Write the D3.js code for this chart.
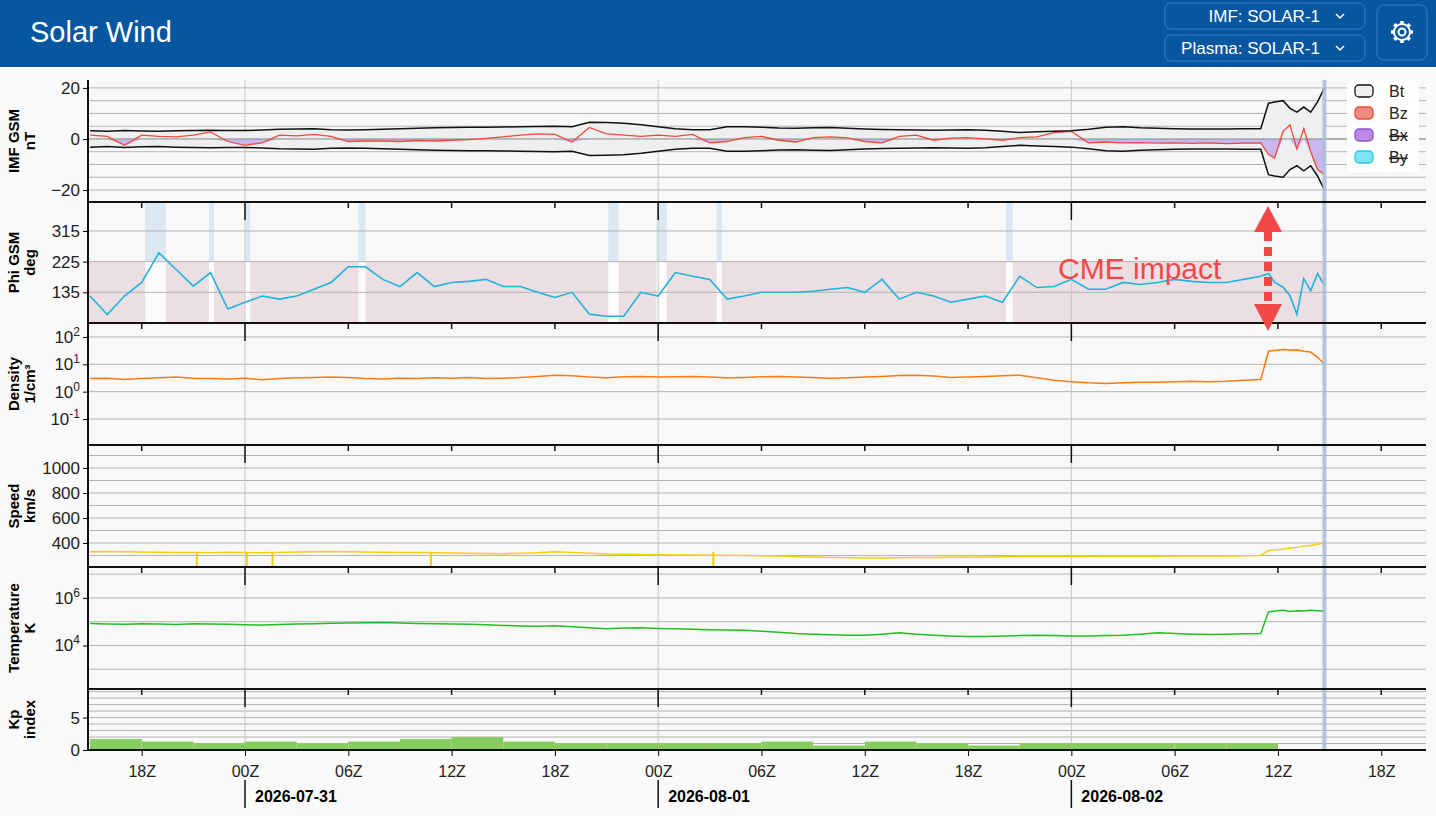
<!DOCTYPE html>
<html><head><meta charset="utf-8">
<script src="https://cdn.jsdelivr.net/npm/d3@7"></script>
<style>body{margin:0;background:#fafafa;font-family:Arial,"Liberation Sans",sans-serif}svg{display:block}</style>
</head><body><svg id="c" width="1436" height="816"></svg>
<script>
// ---- data ----
const hourOffsets = d3.range(0, 69).concat([68.45, 68.8, 69.3, 69.7, 70.1, 70.5, 70.9, 71.3, 71.7]);
const bt = [3.2,3.0,3.3,3.1,3.0,3.2,3.3,3.4,3.3,
 3.3,3.5,3.8,3.9,4.0,3.6,3.5,3.6,3.8,4.0,4.2,4.4,
 4.5,4.6,4.6,4.7,4.8,4.9,5.0,4.8,6.5,6.4,6.2,5.6,4.8,4.0,3.6,
 3.6,4.8,4.8,4.6,4.3,4.2,4.4,4.5,4.2,3.9,3.7,3.6,3.5,3.4,3.5,
 3.6,3.4,3.0,2.5,2.8,3.0,3.2,3.8,4.6,4.8,4.4,4.2,4.0,3.9,3.9,3.9,4.0,4.0,
 14.0,14.5,15.0,12.0,10.5,12.5,10.5,14.5,20.0];
const bz = [1.5,1.0,-2.5,1.5,1.0,0.8,1.5,2.8,-1.0,
 -2.5,-1.5,1.5,1.2,1.8,1.0,-1.0,-0.8,-0.8,-1.0,-0.6,-0.8,
 -0.5,-0.3,0.2,0.8,1.5,2.0,1.8,-1.2,4.5,2.0,1.5,1.0,1.5,1.0,1.8,
 -1.5,-1.0,0.5,1.0,-0.5,-1.2,0.5,0.8,0.4,-1.0,-1.5,1.0,1.5,-0.5,0.3,
 0.5,0.0,-0.5,0.5,0.8,2.5,3.0,-1.5,-1.2,-1.5,-1.4,-1.6,-1.5,-1.7,-1.5,-1.8,-1.6,-1.5,
 -6.0,-7.5,3.0,5.5,-4.0,4.0,-5.0,-12.0,-14.0];
const phi = [124,70,124,164,251,202,153,193,86,106,124,115,124,144,164,210,210,173,152,193,
 152,164,167,173,152,152,135,120,135,71,65,65,135,124,193,182,173,115,124,135,
 135,135,138,144,149,135,173,115,135,124,106,115,124,106,182,149,152,173,144,144,
 164,158,164,173,167,164,164,173,182,
 190,165,150,125,70,175,140,190,155];
const density = [3.0,3.1,2.8,3.0,3.2,3.4,3.1,3.0,2.9,
 3.1,2.7,3.0,3.2,3.3,3.4,3.3,3.0,2.9,3.1,3.0,3.2,
 3.1,3.3,3.0,3.1,3.3,3.6,4.0,3.8,3.4,3.2,3.5,3.6,3.4,3.5,3.6,
 3.4,3.2,3.3,3.5,3.6,3.4,3.3,3.1,3.2,3.4,3.6,3.9,4.0,3.7,3.3,
 3.4,3.6,3.8,4.0,3.2,2.6,2.3,2.1,2.0,2.1,2.2,2.2,2.3,2.4,2.3,2.4,2.6,2.8,
 30,32,35,33,34,30,28,18,10];
const speed = [330,332,330,328,326,325,324,322,325,324,322,325,328,
 330,332,330,328,326,325,324,322,320,318,316,315,318,
 322,330,325,318,312,310,308,306,305,304,302,300,300,
 298,295,290,288,285,282,280,280,282,284,285,286,287,288,290,292,292,
 292,293,293,294,294,295,295,296,296,297,297,298,300,
 340,345,350,360,365,375,380,390,400];
const speedDropouts = [6.2, 9.1, 10.6, 19.8, 36.2];
const temperature = [85000,80000,78000,82000,80000,76000,82000,80000,78000,75000,72000,76000,80000,
 82000,86000,88000,90000,92000,88000,84000,82000,80000,78000,74000,70000,66000,
 64000,68000,62000,55000,50000,54000,56000,52000,50000,48000,46000,45000,44000,
 40000,36000,32000,30000,28000,27000,27000,30000,34000,30000,27000,25000,24000,24000,25000,26000,27000,
 26000,25000,25000,26000,27000,30000,34000,32000,30000,29000,30000,31000,32000,
 260000,280000,300000,270000,290000,280000,300000,290000,280000];
const kp = [1.7,1.3,1.0,1.3,1.0,1.3,1.7,2.0,1.3,1.0,1.0,1.0,1.0,1.3,0.7,1.3,1.0,0.7,1.0,1.0,1.0,1.0,1.0];
const phiGaps = [[3.2,4.4],[6.9,7.2],[9.0,9.3],[15.6,16.0],[30.1,30.7],[32.9,33.5],[36.4,36.7],[53.2,53.6]];
const hourLabels = ["18Z","00Z","06Z","12Z","18Z","00Z","06Z","12Z","18Z","00Z","06Z","12Z","18Z"];
const dateLabels = ["2026-07-31","2026-08-01","2026-08-02"];
const legendItems = ["Bt","Bz","Bx","By"];

// ---- setup ----
const t0 = Date.UTC(2026,6,30,15);
const T = h => new Date(t0 + h*3600e3);
const svg = d3.select("#c");
const L = 88, R = 1426;
const x = d3.scaleUtc().domain([T(-0.12), T(77.6)]).range([L, R]);
const hx = h => x(T(h));

// header
svg.append("rect").attr("width",1436).attr("height",67).attr("fill","#0657a0");
svg.append("text").attr("x",30).attr("y",42).attr("fill","#fff").attr("font-size",29).text("Solar Wind");
[["IMF: SOLAR-1",3],["Plasma: SOLAR-1",35]].forEach(([t,y])=>{
  svg.append("rect").attr("x",1165).attr("y",y).attr("width",200).attr("height",26).attr("rx",6)
   .attr("fill","none").attr("stroke","#3a7bbd");
  svg.append("text").attr("x",1320).attr("y",y+19).attr("text-anchor","end").attr("fill","#fff").attr("font-size",17).text(t);
  svg.append("path").attr("d",`M1336,${y+11} l4,4 l4,-4`).attr("fill","none").attr("stroke","#fff").attr("stroke-width",1.5);
});
svg.append("rect").attr("x",1377).attr("y",5).attr("width",50).attr("height",55).attr("rx",7).attr("fill","none").attr("stroke","#3a7bbd");
const gear = svg.append("g").attr("transform","translate(1402,32)");
gear.append("path").attr("d",d3.range(8).map(i=>{const a=i*Math.PI/4;return `M${Math.cos(a)*7},${Math.sin(a)*7}L${Math.cos(a)*11},${Math.sin(a)*11}`}).join(""))
  .attr("stroke","#fff").attr("stroke-width",3.5);
gear.append("circle").attr("r",8).attr("fill","#0657a0").attr("stroke","#fff").attr("stroke-width",2);
gear.append("circle").attr("r",3.5).attr("fill","none").attr("stroke","#fff").attr("stroke-width",2);

// panels
const panels = [
 {top:80,bot:202,label:["IMF GSM","nT"]},
 {top:202,bot:323,label:["Phi GSM","deg"]},
 {top:323,bot:445,label:["Density","1/cm³"]},
 {top:445,bot:567,label:["Speed","km/s"]},
 {top:567,bot:689,label:["Temperature","K"]},
 {top:689,bot:750,label:["Kp","index"]}];
const yB = d3.scaleLinear().domain([-24.7,23.1]).range([202,80]);
const yP = d3.scaleLinear().domain([45,400]).range([323,202]);
const yD = d3.scaleLog().domain([10**-1.95,10**2.51]).range([445,323]);
const yS = d3.scaleLinear().domain([208,1184]).range([567,445]);
const yT = d3.scaleLog().domain([10**2.17,10**7.3]).range([689,567]);
const yK = d3.scaleLinear().domain([0,9.4]).range([750,689]);

svg.append("rect").attr("x",L).attr("y",80).attr("width",R-L).attr("height",670).attr("fill","#f8f8f8");
function grid(ys, vals){ svg.append("g").selectAll("line").data(vals).join("line")
  .attr("x1",L).attr("x2",R).attr("y1",d=>ys(d)).attr("y2",d=>ys(d)).attr("stroke","#b4b4b4").attr("stroke-width",1); }
grid(yB, d3.range(-20,21,5));
svg.append("rect").attr("x",L).attr("width",hx(71.7)-L).attr("y",yP(225)).attr("height",yP(45)-yP(225)).attr("fill","#ecdfe3");
phiGaps.forEach(g=>{
  svg.append("rect").attr("x",hx(g[0])).attr("width",hx(g[1])-hx(g[0])).attr("y",202).attr("height",yP(225)-202).attr("fill","#dbe8f2");
  svg.append("rect").attr("x",hx(g[0])).attr("width",hx(g[1])-hx(g[0])).attr("y",yP(225)).attr("height",yP(45)-yP(225)).attr("fill","#fbfbfb");
});
grid(yP,[135,225,315]);
grid(yD,[0.1,1,10,100]);
grid(yS,d3.range(300,1200,100));
grid(yT,[1e3,1e4,1e5,1e6,1e7]);
grid(yK,d3.range(1,10,1));

const days = [9,33,57];
svg.append("g").selectAll("line").data(days).join("line").attr("x1",d=>hx(d)).attr("x2",d=>hx(d))
  .attr("y1",80).attr("y2",750).attr("stroke","#c8c8c8");

const idx = d3.range(hourOffsets.length);
svg.append("path").datum(idx).attr("fill","#eeeff0")
  .attr("d",d3.area().x(i=>hx(hourOffsets[i])).y0(i=>yB(-bt[i])).y1(i=>yB(bt[i])));
svg.append("path").datum(idx).attr("fill","#c9b6f0")
  .attr("d",d3.area().x(i=>hx(hourOffsets[i])).y0(yB(0)).y1(i=>yB(Math.min(0,bz[i]))));
svg.append("line").attr("x1",L).attr("x2",R).attr("y1",yB(0)).attr("y2",yB(0)).attr("stroke","#888");
const lineT = (ys,arr)=>d3.line().x(i=>hx(hourOffsets[i])).y(i=>ys(arr[i]));
svg.append("path").datum(idx).attr("fill","none").attr("stroke","#f04a36").attr("stroke-width",1.3).attr("d",lineT(yB,bz));
[1,-1].forEach(s=>svg.append("path").datum(idx).attr("fill","none").attr("stroke","#111").attr("stroke-width",1.5)
  .attr("d",d3.line().x(i=>hx(hourOffsets[i])).y(i=>yB(s*bt[i]))));
svg.append("path").datum(idx).attr("fill","none").attr("stroke","#1fb4dc").attr("stroke-width",1.6).attr("d",lineT(yP,phi));
svg.append("path").datum(idx).attr("fill","none").attr("stroke","#ff7a10").attr("stroke-width",1.5).attr("d",lineT(yD,density));
svg.append("path").datum(idx).attr("fill","none").attr("stroke","#f2cf10").attr("stroke-width",1.5).attr("d",lineT(yS,speed));
svg.append("g").selectAll("line").data(speedDropouts).join("line").attr("x1",d=>hx(d)).attr("x2",d=>hx(d))
  .attr("y1",yS(330)).attr("y2",567).attr("stroke","#f2cf10").attr("stroke-width",2);
svg.append("path").datum(idx).attr("fill","none").attr("stroke","#22bf22").attr("stroke-width",1.5).attr("d",lineT(yT,temperature));
svg.append("g").selectAll("rect").data(kp).join("rect").attr("x",(d,i)=>hx(i*3)).attr("width",(d,i)=>hx(i*3+3)-hx(i*3))
  .attr("y",d=>yK(d)).attr("height",d=>750-yK(d)).attr("fill","#86cc5e");

svg.append("line").attr("x1",hx(71.7)).attr("x2",hx(71.7)).attr("y1",80).attr("y2",750).attr("stroke","#a9bdd8").attr("stroke-width",4).attr("opacity",0.85);

panels.forEach((p,k)=>{
  if(k>0) svg.append("line").attr("x1",L).attr("x2",R).attr("y1",p.top).attr("y2",p.top).attr("stroke","#111").attr("stroke-width",2);
  if(k>0) svg.append("g").selectAll("line").data(d3.range(3,78,6)).join("line")
    .attr("x1",d=>hx(d)).attr("x2",d=>hx(d)).attr("y1",p.top).attr("y2",d=>p.top+((d-9)%24===0?18:6))
    .attr("stroke","#111").attr("stroke-width",1.5);
  const cy=(p.top+p.bot)/2;
  const g=svg.append("g").attr("transform",`translate(0,${cy}) rotate(-90)`).attr("font-weight","bold").attr("font-size",15).attr("text-anchor","middle");
  g.append("text").attr("y",19).text(p.label[0]);
  g.append("text").attr("y",35).text(p.label[1]);
});
svg.append("line").attr("x1",L).attr("x2",R).attr("y1",750).attr("y2",750).attr("stroke","#111").attr("stroke-width",2);
svg.append("line").attr("x1",L).attr("x2",L).attr("y1",80).attr("y2",750).attr("stroke","#111").attr("stroke-width",2);

function yax(scale, vals, fmt){ const g=svg.append("g").attr("transform",`translate(${L},0)`)
  .call(d3.axisLeft(scale).tickValues(vals).tickFormat(fmt).tickSizeOuter(0).tickSize(5));
  g.select(".domain").remove(); g.selectAll("text").attr("font-size",17).attr("fill","#222").attr("font-family","Arial,sans-serif");
  return g;}
yax(yB,[-20,0,20],d=>d<0?"−"+(-d):d);
yax(yP,[135,225,315],d=>d);
yax(yS,[400,600,800,1000],d=>d);
yax(yK,[0,5],d=>d);
const supAx=(scale,vals)=>{ const g=yax(scale,vals,()=>"" );
  g.selectAll(".tick text").each(function(d){ const e=Math.round(Math.log10(d)); const t=d3.select(this);
    t.append("tspan").text("10"); t.append("tspan").attr("dy",-7).attr("font-size",12).text(e); });};
supAx(yD,[0.1,1,10,100]); supAx(yT,[1e4,1e6]);

const xt = svg.append("g").attr("transform","translate(0,750)")
  .call(d3.axisBottom(x).tickValues(hourLabels.map((d,i)=>T(3+6*i))).tickFormat((d,i)=>hourLabels[i]).tickSize(6).tickSizeOuter(0));
xt.select(".domain").remove();
xt.selectAll("text").attr("font-size",16).attr("dy","1.1em").attr("fill","#222").attr("font-family","Arial,sans-serif");
dateLabels.forEach((d,i)=>{ const xx=hx(days[i]);
  svg.append("line").attr("x1",xx).attr("x2",xx).attr("y1",780).attr("y2",808).attr("stroke","#111").attr("stroke-width",1.5);
  svg.append("text").attr("x",xx+10).attr("y",802).attr("font-size",16).attr("font-weight","bold").text(d); });

const lg=svg.append("g").attr("transform","translate(1347,80)");
lg.append("rect").attr("width",72).attr("height",92).attr("rx",5).attr("fill","#fff").attr("opacity",0.95);
const sw=[["#eeeff0","#111"],["#ec8c80","#f04a36"],["#b98ae8","#9050d0"],["#7ee4f4","#20c8e8"]];
legendItems.forEach((t,i)=>{ const y=11+i*22;
  lg.append("rect").attr("x",8).attr("y",y-6).attr("width",18).attr("height",12).attr("rx",4).attr("fill",sw[i][0]).attr("stroke",sw[i][1]).attr("stroke-width",1.3);
  lg.append("text").attr("x",42).attr("y",y+6).attr("font-size",16).attr("fill","#222").attr("text-decoration",i>1?"line-through":null).text(t); });

const cx=1268;
svg.append("line").attr("x1",cx).attr("x2",cx).attr("y1",232).attr("y2",305).attr("stroke","#f44848").attr("stroke-width",8).attr("stroke-dasharray","9,6");
svg.append("path").attr("d",`M${cx},206 l-14,26 h28 z`).attr("fill","#f44848");
svg.append("path").attr("d",`M${cx},331 l-14,-27 h28 z`).attr("fill","#f44848");
svg.append("text").attr("x",1058).attr("y",279).attr("font-size",30).attr("fill","#f44848").text("CME impact");
</script></body></html>
